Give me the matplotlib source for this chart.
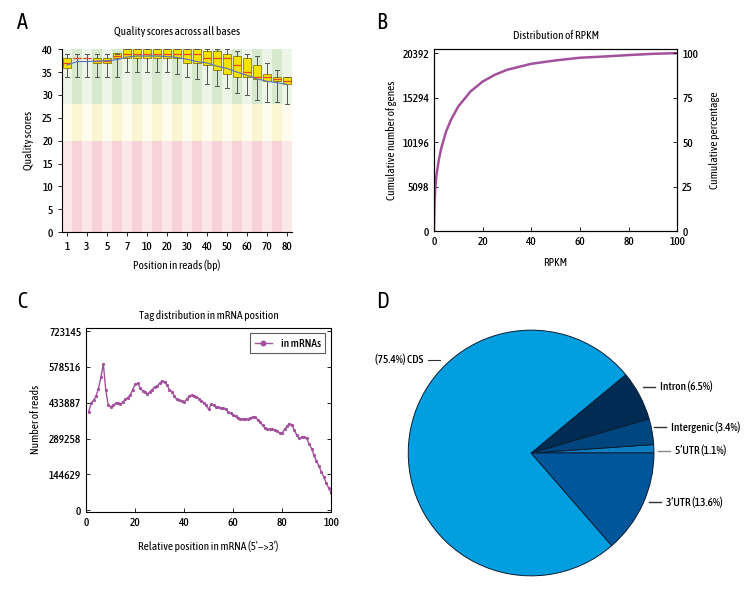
import numpy as np
import matplotlib
matplotlib.use("Agg")
import matplotlib.pyplot as plt
from matplotlib.patches import Rectangle

plt.rcParams["font.family"] = ["Asap Condensed", "DejaVu Sans"]
plt.rcParams["font.weight"] = 500
FS = 8.2

# ── Panel A: per-position quality ────────────────────────────────────────────
pos_labels = ["1", "3", "5", "7", "10", "20", "30", "40", "50", "60", "70", "80"]
q_med = [37, 38, 38, 37.5, 37.5, 38.5, 39, 39, 39, 39, 39, 39, 39, 39, 38, 38, 38, 36.5, 35, 34, 34, 33.5, 33]
q_q1 = [36, 38, 38, 37, 37, 38, 38, 38, 38, 38, 38, 38, 37, 37, 36.5, 35.5, 34.5, 34, 34, 33.5, 33, 33, 32.5]
q_q3 = [38, 38, 38, 38, 38, 39.2, 40, 40, 40, 40, 40, 40, 40, 40, 39.5, 39.5, 39, 38.5, 38, 36.5, 34.5, 34, 34]
q_lo = [34, 34, 34, 34, 34, 34, 35, 35, 35, 35, 35, 34.5, 34, 33.5, 32.5, 32, 31.5, 30.5, 30, 29, 28.5, 28.5, 28]
q_hi = [39, 39, 39, 39, 39, 39, 40, 40, 40, 40, 40, 40, 40, 40, 40, 40, 40, 39.5, 39, 38.5, 37, 35.5, 34]
q_mean = [36.5, 37.3, 37.3, 37.4, 37.5, 37.7, 38.3, 38.5, 38.5, 38.5, 38.4, 38.2, 37.8, 37.3, 37.0,
          36.3, 35.8, 35.0, 34.3, 33.5, 33.0, 32.7, 32.3]

# ── Panel B: cumulative RPKM ─────────────────────────────────────────────────
rpkm = [0, 0.2, 0.5, 1, 2, 3, 5, 7, 10, 15, 20, 25, 30, 40, 50, 60, 70, 80, 90, 100]
cum_pct = [0, 14.0, 23.0, 31.0, 40.0, 46.5, 56.0, 62.5, 70.0, 78.4, 84.0, 87.8, 90.6, 94.0, 95.9,
           97.4, 98.1, 98.9, 99.6, 100.0]
total_genes = 20392

# ── Panel C: tag distribution ────────────────────────────────────────────────
mrna_pos = list(range(1, 101))
mrna_reads = [397, 431, 444, 460, 491, 536, 590, 485, 424, 417,
              424, 431, 431, 428, 438, 447, 455, 465, 487, 508,
              512, 494, 482, 478, 469, 478, 487, 498, 501, 512,
              522, 518, 505, 487, 478, 460, 447, 444, 442, 438,
              447, 460, 465, 460, 458, 451, 442, 434, 424, 407,
              427, 424, 417, 415, 413, 411, 407, 397, 391, 384,
              380, 373, 370, 368, 368, 368, 372, 377, 375, 366,
              357, 343, 333, 326, 326, 326, 323, 319, 312, 312,
              326, 339, 350, 343, 323, 303, 290, 296, 296, 290,
              269, 249, 222, 199, 179, 155, 135, 110, 90, 71]
mrna_reads = [v * 1000 for v in mrna_reads]
c_ticks = [0, 144629, 289258, 433887, 578516, 723145]

# ── Panel D: read origin ─────────────────────────────────────────────────────
regions = ["5’UTR", "Intergenic", "Intron", "CDS", "3’UTR"]
region_pct = [1.1, 3.4, 6.5, 75.4, 13.6]

PURPLE = "#a2519c"

fig = plt.figure(figsize=(7.56, 6.0), dpi=100, facecolor="white")

# ---------------- A ----------------
axA = fig.add_axes([0.082, 0.613, 0.304, 0.305])
n = len(q_med)
zones = [(0, 20, "#fbe6e8", "#f7d2d6"), (20, 28, "#fefcec", "#fbf6d2"), (28, 40, "#edf5e8", "#d6e9cc")]
for i in range(n):
    for y0, y1, light, dark in zones:
        axA.add_patch(Rectangle((i - 0.5, y0), 1, y1 - y0,
                                facecolor=light if i % 2 == 0 else dark, lw=0, zorder=0))
stats = [dict(med=q_med[i], q1=q_q1[i], q3=q_q3[i], whislo=q_lo[i], whishi=q_hi[i], fliers=[])
         for i in range(n)]
axA.bxp(stats, positions=range(n), widths=0.8, showfliers=False, patch_artist=True,
        boxprops=dict(facecolor="#f4e200", edgecolor="#9a8a10", lw=0.7),
        medianprops=dict(color="#e8442c", lw=0.9),
        whiskerprops=dict(color="#555555", lw=0.7),
        capprops=dict(color="#555555", lw=0.7))
axA.plot(range(n), q_mean, color="#5a6fc8", lw=0.8, zorder=5)
axA.set_xlim(-0.5, n - 0.5)
axA.set_ylim(0, 40)
axA.set_yticks(range(0, 41, 5))
axA.set_xticks(range(0, n, 2))
axA.set_xticklabels(pos_labels)
for s in ["top", "right"]:
    axA.spines[s].set_visible(False)
axA.tick_params(length=3, width=0.6, labelsize=FS)
axA.set_title("Quality scores across all bases", fontsize=FS, pad=10)
axA.set_xlabel("Position in reads (bp)", fontsize=FS, labelpad=5)
axA.set_ylabel("Quality scores", fontsize=FS, labelpad=6)

# ---------------- B ----------------
axB = fig.add_axes([0.574, 0.615, 0.322, 0.303])
axB.plot(rpkm, [p / 100 * total_genes for p in cum_pct], color=PURPLE, lw=1.8)
axB.set_xlim(0, 100)
axB.set_ylim(0, total_genes * 1.022)
axB.set_yticks([0, 5098, 10196, 15294, 20392])
axB.set_xticks(range(0, 101, 20))
axB.tick_params(direction="in", length=3, width=0.6, labelsize=FS)
axB.set_title("Distribution of RPKM", fontsize=FS, pad=7)
axB.set_xlabel("RPKM", fontsize=FS, labelpad=7)
axB.set_ylabel("Cumulative number of genes", fontsize=FS, labelpad=4)
axB2 = axB.twinx()
axB2.set_ylim(0, 100 * 1.022)
axB2.set_yticks([0, 25, 50, 75, 100])
axB2.tick_params(direction="in", length=3, width=0.6, labelsize=FS)
axB2.set_ylabel("Cumulative percentage", fontsize=FS, labelpad=8)

# ---------------- C ----------------
axC = fig.add_axes([0.114, 0.147, 0.324, 0.307])
axC.plot(mrna_pos, mrna_reads, color=PURPLE, lw=1.0, marker="o", ms=1.3, label="in mRNAs")
axC.set_xlim(0, 100)
axC.set_ylim(-6000, 737000)
axC.set_yticks(c_ticks)
axC.set_yticklabels([str(t) for t in c_ticks])
axC.set_xticks(range(0, 101, 20))
axC.tick_params(direction="in", length=3, width=0.6, right=True, labelsize=FS)
axC.set_title("Tag distribution in mRNA position", fontsize=FS, pad=6)
axC.set_xlabel("Relative position in mRNA (5′−>3′)", fontsize=FS, labelpad=9)
axC.set_ylabel("Number of reads", fontsize=FS, labelpad=6)
leg = axC.legend(loc="upper right", fontsize=FS, fancybox=False, edgecolor="#333333",
                 handlelength=1.5, markerscale=2.5, borderaxespad=0.5)
leg.get_frame().set_linewidth(0.8)

# ---------------- D ----------------
axD = fig.add_axes([0.540, 0.04, 0.325, 0.41])
pie_colors = ["#0d7ec2", "#00467e", "#002b52", "#019fe0", "#00569a"]
axD.pie(region_pct, colors=pie_colors, startangle=0, counterclock=True, radius=1,
        wedgeprops=dict(edgecolor="#0b1c33", linewidth=0.7))
axD.set_xlim(-1.0, 1.0)
axD.set_ylim(-1.0, 1.0)
pie_labels = [
    ((0.91, 0.54), f"Intron ({region_pct[2]}%)", "#333333"),
    ((1.00, 0.21), f"Intergenic ({region_pct[1]}%)", "#333333"),
    ((1.03, 0.02), f"5’UTR ({region_pct[0]}%)", "#888888"),
    ((0.96, -0.40), f"3’UTR ({region_pct[4]}%)", "#333333"),
]
for (x, y), txt, lc in pie_labels:
    axD.plot([x, x + 0.10], [y, y], color=lc, lw=1.0, clip_on=False)
    axD.text(x + 0.14, y, txt, ha="left", va="center", fontsize=FS)
axD.plot([-0.84, -0.74], [0.76, 0.76], color="#333333", lw=0.8, clip_on=False)
axD.text(-0.88, 0.76, f"({region_pct[3]}%) CDS", ha="right", va="center", fontsize=FS)

# panel letters
for lbl, x, y in [("A", 0.022, 0.962), ("B", 0.497, 0.962), ("C", 0.022, 0.497), ("D", 0.497, 0.497)]:
    fig.text(x, y, lbl, fontsize=16, fontweight=400, ha="left", va="center")

fig.savefig("out.png", dpi=100, facecolor="white")
